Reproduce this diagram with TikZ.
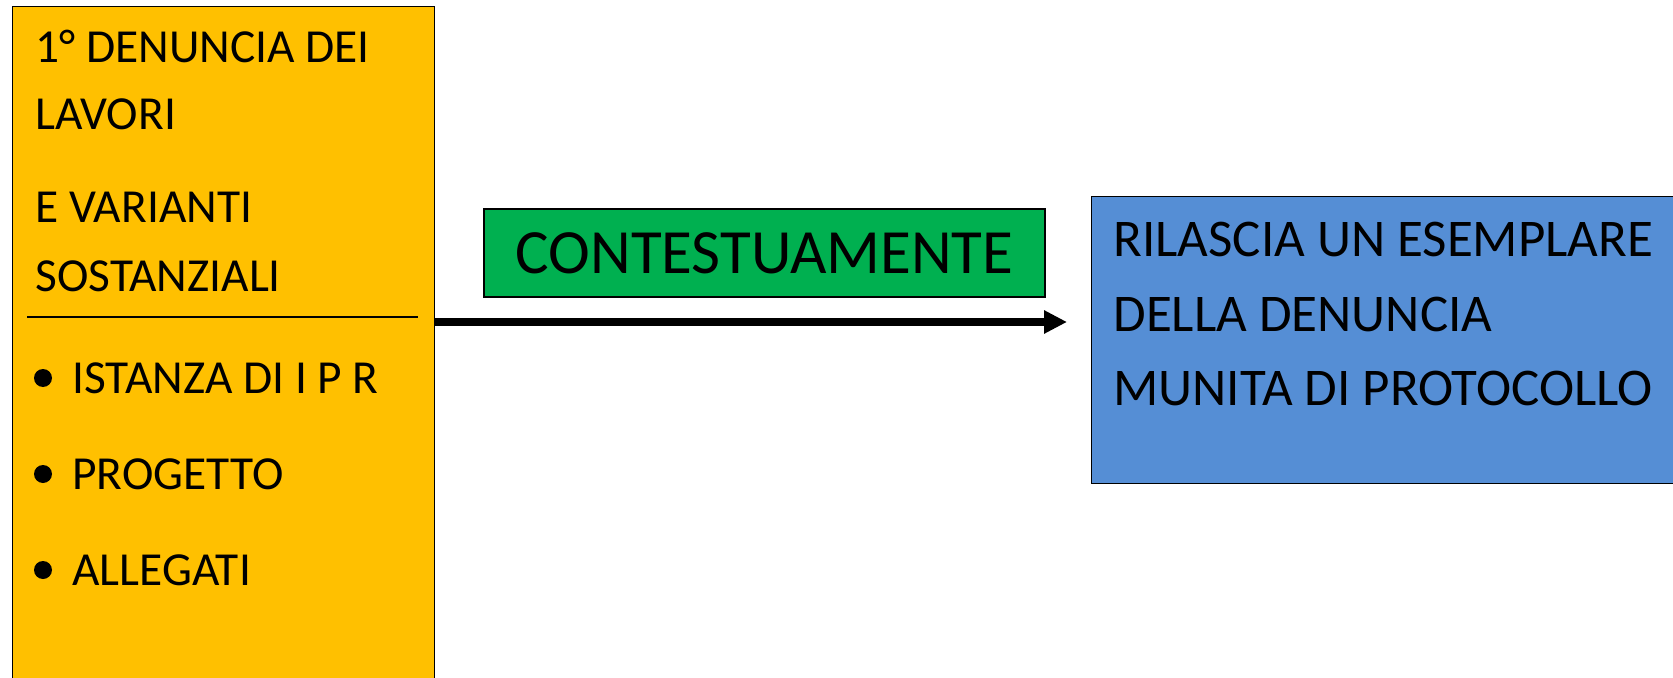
\documentclass[tikz,border=0pt]{standalone}
\usepackage{fontspec}
\setmainfont{Carlito}
\usetikzlibrary{arrows.meta}
\definecolor{giallo}{HTML}{FFC000}
\definecolor{verde}{HTML}{00B050}
\definecolor{azzurro}{HTML}{558ED5}
\tikzset{
  riquadro/.style={draw, line width=0.6pt, anchor=north west, inner sep=0},
  riga/.style={anchor=base west, inner sep=0, font=\fontsize{23.7}{28}\selectfont},
  rigablu/.style={anchor=base west, inner sep=0, font=\fontsize{26.5}{32}\selectfont},
  pallino/.style={circle, fill, inner sep=0, minimum size=9pt},
}
\begin{document}
\begin{tikzpicture}[x=0.5pt,y=-0.5pt]
  \useasboundingbox (0,0) rectangle (1673,678);

  \node[riquadro, fill=giallo, minimum width=211pt, minimum height=350pt] (denuncia) at (12,6) {};
  \node[riquadro, fill=azzurro, minimum width=300pt, minimum height=143.5pt] (rilascio) at (1091,196) {};
  \node[riquadro, anchor=center, fill=verde, minimum width=280.5pt, minimum height=44pt,
        font=\fontsize{31.5}{38}\selectfont] (contestuale) at (764.5,253) {CONTESTUAMENTE};

  \node[riga] (d1) at (35,62.5) {1° DENUNCIA DEI};
  \node[riga] (d2) at (35,130) {LAVORI};
  \node[riga] (d3) at (35,223) {E VARIANTI};
  \node[riga] (d4) at (35,292) {SOSTANZIALI};
  \draw[line width=0.7pt] (27,317) -- (418,317);

  \foreach \voce [count=\i] in {ISTANZA DI I P R, PROGETTO, ALLEGATI} {
    \node[pallino] (b\i) at (43,{378+96*(\i-1)}) {};
    \node[riga] (v\i) at (72,{393+96*(\i-1)}) {\voce};
  }

  \node[rigablu] (r1) at (1113,257) {RILASCIA UN ESEMPLARE};
  \node[rigablu] (r2) at (1113,331) {DELLA DENUNCIA};
  \node[rigablu] (r3) at (1113,405) {MUNITA DI PROTOCOLLO};

  \coordinate (punta) at (1067,322);
  \draw[-{Triangle[length=11.5pt,width=11pt]}, line width=4pt] (denuncia.east |- punta) -- (punta);
\end{tikzpicture}
\end{document}
